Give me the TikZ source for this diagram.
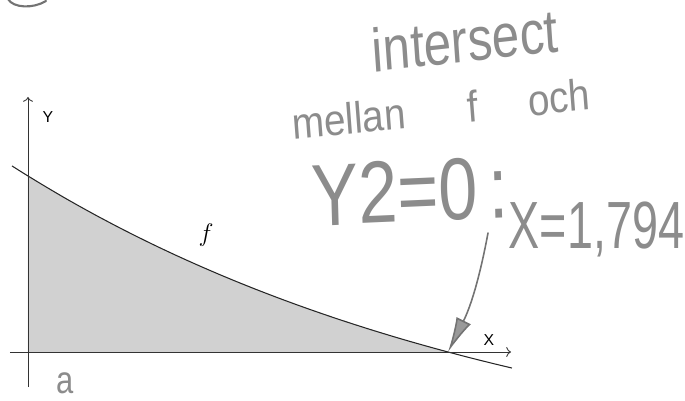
\documentclass[tikz,border=0pt]{standalone}
\usepackage{fontspec}
\setmainfont{Liberation Sans}
\usetikzlibrary{arrows,arrows.meta}

\begin{document}
\begin{tikzpicture}[scale=1,
  axis/.style={draw=black!80, line width=0.5pt, ->},
  pen/.style={draw=black!55, line width=0.9pt, line cap=round},
  hand/.style={inner sep=0pt, text=black!45}]
\useasboundingbox (-0.56,-0.98) rectangle (13.14,7.04);

\fill[black!18] (0,0) -- plot[domain=0:8.4, samples=60] (\x,{6.194*exp(-0.1*\x)-2.674}) -- cycle;
\draw[black!85, line width=0.6pt] plot[domain=-0.32:9.68, samples=80] (\x,{6.194*exp(-0.1*\x)-2.674});

\coordinate (XL) at (-0.36,0);
\coordinate (XR) at (9.66,0);
\coordinate (YB) at (0,-0.7);
\coordinate (YT) at (0,5.1);
\coordinate (C) at (8.40,0);
\coordinate (P) at (9.2,2.38);

\draw[axis] (XL) -- (XR);
\draw[axis] (YB) -- (YT);

\node[inner sep=1pt] (Y) at (0.4,4.7) {\small Y};
\node[inner sep=1pt] (X) at (9.22,0.24) {\small X};
\node[inner sep=1pt] (F) at (3.56,2.34) {\fontsize{15}{15}\selectfont $f$};

\node[hand, font=\fontsize{35}{35}\selectfont, xscale=0.8, rotate=5] (T1) at (8.74,6.24) {intersect};
\node[hand, font=\fontsize{25}{25}\selectfont, xscale=0.88, rotate=5] (T2) at (8.26,4.86) {mellan\hspace{1.6em}f\hspace{1.3em}och};
\node[hand, font=\fontsize{50}{50}\selectfont, xscale=0.8, rotate=2] (T3) at (7.64,3.21) {Y2=0\,:};
\node[hand, font=\fontsize{38}{38}\selectfont, xscale=0.7] (T4) at (11.37,2.46) {X=1,794};
\node[hand, font=\fontsize{22}{22}\selectfont, xscale=0.8, anchor=base] (A) at (0.74,-0.84) {a};

\draw[pen, -{Latex[length=7mm,width=3.2mm,fill=black!40]}] (P) to[bend left=8] (C);
\draw[pen, line width=1.2pt] (-0.4,7.06) .. controls (-0.3,6.88) and (0.1,6.86) .. (0.36,7.02);
\end{tikzpicture}
\end{document}
